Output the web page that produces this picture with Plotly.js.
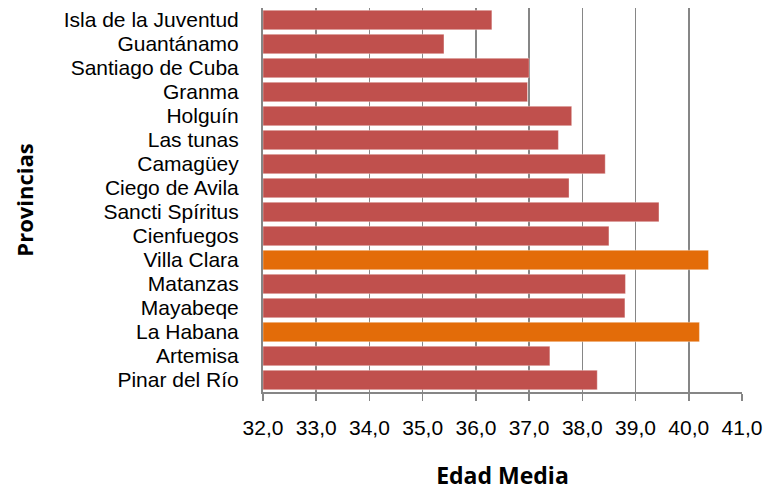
<!DOCTYPE html>
<html>
<head>
<meta charset="utf-8">
<script src="https://cdn.plot.ly/plotly-3.0.1.min.js"></script>
<style>html,body{margin:0;padding:0;background:#fff;}#chart{width:773px;height:491px;}</style>
</head>
<body>
<div id="chart"></div>
<script>
// Provinces listed top to bottom
var provincias = ["Isla de la Juventud","Guantánamo","Santiago de Cuba","Granma","Holguín","Las tunas","Camagüey","Ciego de Avila","Sancti Spíritus","Cienfuegos","Villa Clara","Matanzas","Mayabeqe","La Habana","Artemisa","Pinar del Río"];
var edadMedia = [36.3, 35.4, 37.0, 36.97, 37.8, 37.55, 38.43, 37.75, 39.44, 38.5, 40.37, 38.81, 38.8, 40.2, 37.39, 38.28];
var destacadas = ["Villa Clara","La Habana"];
var colorBase = "#C0504D";
var colorDestacado = "#E36C09";
var xTicks = [32,33,34,35,36,37,38,39,40,41];
var xMin = 32, xMax = 41;

var colors = provincias.map(function(p){ return destacadas.indexOf(p) >= 0 ? colorDestacado : colorBase; });

var trace = {
  type: "bar",
  orientation: "h",
  y: provincias,
  x: edadMedia.map(function(v){ return v - xMin; }),
  base: xMin,
  marker: {color: colors, line: {color: "rgba(255,255,255,0.35)", width: 1}},
  hoverinfo: "skip"
};

var layout = {
  width: 773,
  height: 491,
  margin: {l: 263, r: 31, t: 8, b: 99},
  paper_bgcolor: "#ffffff",
  plot_bgcolor: "#ffffff",
  separators: ",.",
  bargap: 0.19,
  showlegend: false,
  font: {family: "Liberation Sans, Arial, sans-serif", color: "#000000"},
  xaxis: {
    range: [xMin, xMax],
    tickmode: "array",
    tickvals: xTicks,
    tickformat: ".1f",
    showgrid: true,
    gridcolor: "#868686",
    gridwidth: 1.6,
    zeroline: false,
    showline: true,
    linecolor: "#868686",
    linewidth: 2,
    ticks: "outside",
    ticklen: 7,
    tickwidth: 1.6,
    tickcolor: "#868686",
    ticklabelstandoff: 9,
    tickfont: {size: 21, family: "Liberation Sans, Arial, sans-serif", color: "#000"},
    title: {text: "Edad Media", font: {size: 23, family: "Open Sans, sans-serif", weight: "bold", color: "#000"}, standoff: 33},
    fixedrange: true
  },
  yaxis: {
    type: "category",
    autorange: "reversed",
    tickmode: "array",
    tickvals: provincias,
    ticktext: provincias,
    showgrid: false,
    zeroline: false,
    showline: true,
    linecolor: "#868686",
    linewidth: 2,
    ticks: "",
    ticklabelstandoff: 18,
    tickfont: {size: 21, family: "Liberation Sans, Arial, sans-serif", color: "#000"},
    title: {text: "Provincias", font: {size: 22, family: "Open Sans, sans-serif", weight: "bold", color: "#000"}, standoff: 24},
    fixedrange: true
  }
};

Plotly.newPlot("chart", [trace], layout, {displayModeBar: false, staticPlot: true});
</script>
</body>
</html>
